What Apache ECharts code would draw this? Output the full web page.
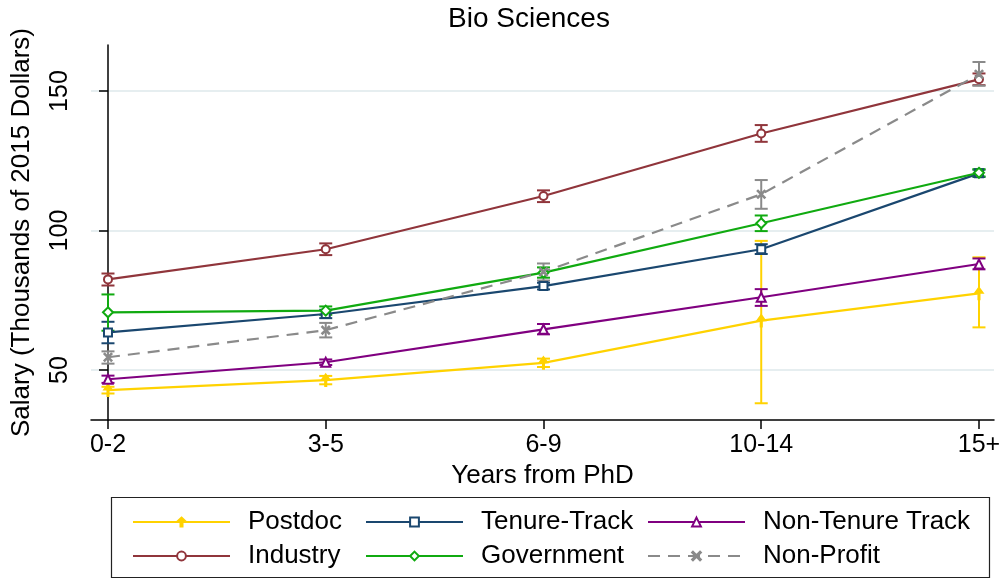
<!DOCTYPE html>
<html>
<head>
<meta charset="utf-8">
<script src="https://cdn.jsdelivr.net/npm/echarts@6/dist/echarts.min.js"></script>
<style>
html,body{margin:0;padding:0;background:#fff;}
#c{width:1004px;height:579px;}
</style>
</head>
<body>
<div id="c"></div>
<script>
// ---- data ----
const categories = ['0-2', '3-5', '6-9', '10-14', '15+'];
const yTicks = [50, 100, 150];

const postdoc      = [42.8, 46.4, 52.6, 67.7, 77.5];
const postdocLo    = [41.6, 44.9, 51.1, 38.1, 65.3];
const postdocHi    = [44.0, 47.9, 54.1, 96.3, 90.4];

const tenure       = [63.5, 70.1, 80.1, 93.3, 120.5];
const tenureLo     = [59.6, 68.6, 78.9, 91.6, 119.2];
const tenureHi     = [67.3, 71.6, 81.3, 95.1, 121.8];

const nonTenure    = [46.7, 52.8, 64.6, 76.1, 88.0];
const nonTenureLo  = [45.4, 51.8, 62.8, 73.0, 86.1];
const nonTenureHi  = [48.0, 53.8, 66.5, 79.0, 90.0];

const industry     = [82.5, 93.3, 112.4, 134.8, 154.2];
const industryLo   = [80.3, 91.2, 110.2, 131.8, 152.1];
const industryHi   = [84.6, 95.4, 114.4, 137.8, 156.3];

const government   = [70.7, 71.3, 84.9, 102.6, 120.7];
const governmentLo = [64.1, 69.8, 83.1, 99.8, 119.4];
const governmentHi = [77.1, 72.8, 86.8, 105.4, 122.0];

const nonProfit    = [54.6, 64.3, 85.2, 113.0, 156.0];
const nonProfitLo  = [52.3, 61.7, 82.1, 107.8, 151.9];
const nonProfitHi  = [56.7, 66.9, 88.2, 118.1, 160.4];

const legendRows = [
  ['Postdoc', 'Tenure-Track', 'Non-Tenure Track'],
  ['Industry', 'Government', 'Non-Profit']
];

const FONT = 'Liberation Sans, Arial, sans-serif';

const spikeSym = 'path://M5,0 L8.5,6 L5.8,6 L5.8,13 L4.2,13 L4.2,6 L1.5,6 Z';
const crossSym = 'path://M1,0 L5,4 L9,0 L10,1 L6,5 L10,9 L9,10 L5,6 L1,10 L0,9 L4,5 L0,1 Z';

const groups = [
  {name: 'Postdoc', v: postdoc, lo: postdocLo, hi: postdocHi, color: '#FFD200', symbol: spikeSym, size: [8, 12], dash: 'solid'},
  {name: 'Tenure-Track', v: tenure, lo: tenureLo, hi: tenureHi, color: '#1A476F', symbol: 'emptyRect', size: 8, dash: 'solid'},
  {name: 'Non-Tenure Track', v: nonTenure, lo: nonTenureLo, hi: nonTenureHi, color: '#800080', symbol: 'emptyTriangle', size: 9, dash: 'solid'},
  {name: 'Industry', v: industry, lo: industryLo, hi: industryHi, color: '#90353B', symbol: 'emptyCircle', size: 8, dash: 'solid'},
  {name: 'Government', v: government, lo: governmentLo, hi: governmentHi, color: '#10AA10', symbol: 'emptyDiamond', size: 10, dash: 'solid'},
  {name: 'Non-Profit', v: nonProfit, lo: nonProfitLo, hi: nonProfitHi, color: '#8A8A8A', symbol: crossSym, size: 8, dash: [12, 8]}
];

const series = [];
groups.forEach(function (g) {
  series.push({
    name: g.name + ' CI',
    type: 'custom',
    z: 1,
    silent: true,
    data: g.v.map(function (_, i) { return [i, g.lo[i], g.hi[i]]; }),
    renderItem: function (params, api) {
      const x = api.value(0);
      const p1 = api.coord([x, api.value(1)]);
      const p2 = api.coord([x, api.value(2)]);
      const hw = 6.5;
      const st = {stroke: g.color, lineWidth: 2};
      return {
        type: 'group',
        children: [
          {type: 'line', shape: {x1: p1[0], y1: p1[1], x2: p2[0], y2: p2[1]}, style: st},
          {type: 'line', shape: {x1: p1[0] - hw, y1: p1[1], x2: p1[0] + hw, y2: p1[1]}, style: st},
          {type: 'line', shape: {x1: p2[0] - hw, y1: p2[1], x2: p2[0] + hw, y2: p2[1]}, style: st}
        ]
      };
    }
  });
  series.push({
    name: g.name,
    type: 'line',
    z: 3,
    data: g.v.map(function (v, i) { return [i, v]; }),
    symbol: g.symbol,
    symbolSize: g.size,
    showAllSymbol: true,
    lineStyle: {color: g.color, width: 2.2, type: g.dash},
    itemStyle: {color: g.color, borderColor: g.color, borderWidth: 1.5},
    emphasis: {disabled: true}
  });
});

const colLeft = [132, 365, 647];
const rowTop = [509, 543];
const legends = [];
legendRows.forEach(function (row, r) {
  row.forEach(function (n, c) {
    legends.push({
      left: colLeft[c], top: rowTop[r], orient: 'horizontal', padding: 0,
      itemWidth: 97, itemHeight: 11, itemGap: 0,
      selectedMode: false,
      textStyle: {fontFamily: FONT, fontSize: 26, color: '#000', padding: [0, 0, 0, 13]},
      data: [n]
    });
  });
});

const chart = echarts.init(document.getElementById('c'), null, {renderer: 'canvas'});
chart.setOption({
  animation: false,
  backgroundColor: '#fff',
  title: {
    text: 'Bio Sciences', left: 529, top: 5, textAlign: 'center', padding: 0,
    textStyle: {fontFamily: FONT, fontSize: 28, fontWeight: 'normal', color: '#000'}
  },
  grid: {left: 91, top: 45, width: 903, height: 375, containLabel: false},
  xAxis: {
    type: 'value', min: -0.078, max: 4.069,
    name: 'Years from PhD', nameLocation: 'middle', nameGap: 43,
    nameTextStyle: {fontFamily: FONT, fontSize: 26, color: '#000'},
    axisLine: {show: true, lineStyle: {color: '#000', width: 1.5}},
    axisTick: {show: true, customValues: [0, 1, 2, 3, 4], length: 9, lineStyle: {color: '#000', width: 1.5}},
    axisLabel: {customValues: [0, 1, 2, 3, 4], formatter: function (v) { return categories[Math.round(v)]; },
      fontFamily: FONT, fontSize: 25, color: '#000', margin: 13},
    splitLine: {show: false}
  },
  yAxis: {
    type: 'value', min: 32.1, max: 166.5,
    name: 'Salary (Thousands of 2015 Dollars)', nameLocation: 'middle', nameGap: 56, nameRotate: 90,
    nameTextStyle: {fontFamily: FONT, fontSize: 26, color: '#000'},
    axisLine: {show: true, lineStyle: {color: '#000', width: 1.5}},
    axisTick: {show: true, customValues: yTicks, length: 9, lineStyle: {color: '#000', width: 1.5}},
    axisLabel: {customValues: yTicks, rotate: 90, fontFamily: FONT, fontSize: 25, color: '#000', margin: 18},
    splitLine: {show: true, lineStyle: {color: '#E6EEF0', width: 2}}
  },
  legend: legends,
  graphic: [{
    type: 'rect', z: -1, silent: true,
    shape: {x: 111.5, y: 497.5, width: 878, height: 80},
    style: {fill: '#fff', stroke: '#222', lineWidth: 1.2}
  }],
  series: series
});
</script>
</body>
</html>
